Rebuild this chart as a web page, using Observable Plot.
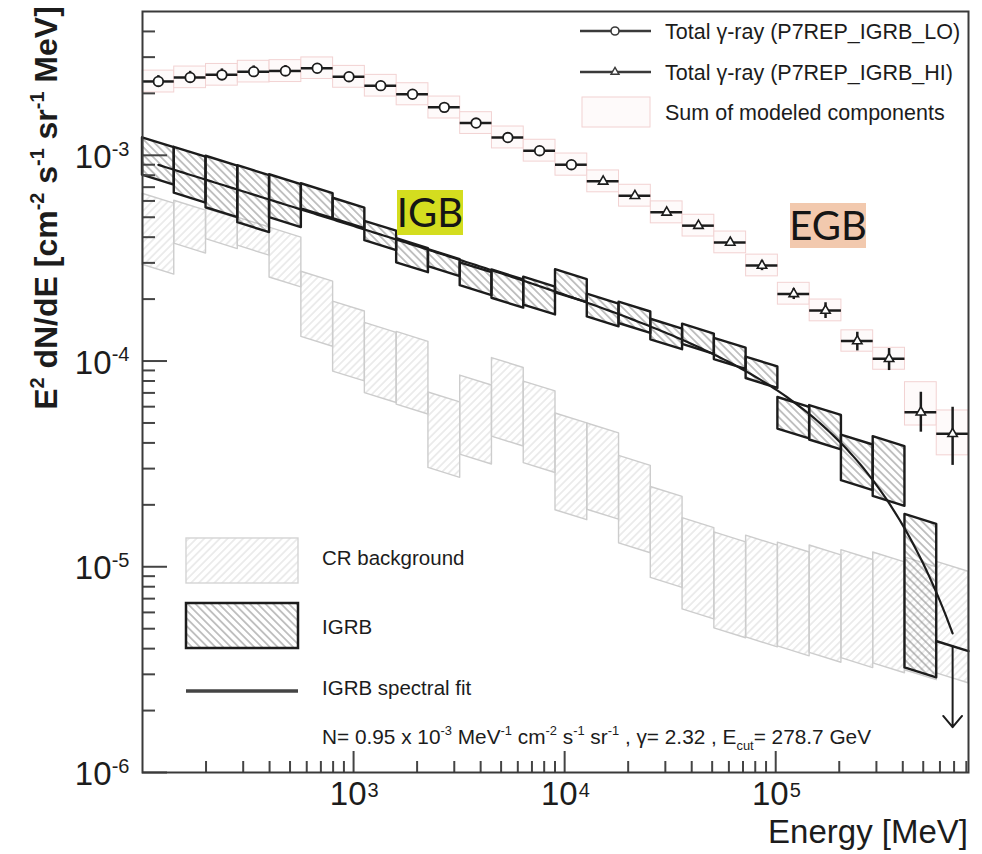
<!DOCTYPE html>
<html>
<head>
<meta charset="utf-8">
<script src="https://cdn.jsdelivr.net/npm/d3@7"></script>
<script src="https://cdn.jsdelivr.net/npm/@observablehq/plot@0.6"></script>
<style>
  body { margin: 0; background: #fff; }
  #chart svg { display: block; }
</style>
</head>
<body>
<div id="chart"></div>
<script>
// Energy binning in MeV: 26 bins from 100 MeV to 819.2 GeV
const binEdges = [100, 141.4, 200, 282.8, 400, 565.7, 800, 1131, 1600, 2263, 3200, 4525, 6400,
  9051, 12800, 18102, 25600, 36204, 51200, 72408, 102400, 144815, 204800, 289631, 409600,
  579262, 819200];

// Total gamma-ray intensity E^2 dN/dE [MeV cm^-2 s^-1 sr^-1], one value per bin
const totalFlux = [2.285e-3, 2.39e-3, 2.46e-3, 2.55e-3, 2.57e-3, 2.65e-3, 2.41e-3, 2.18e-3,
  1.98e-3, 1.71e-3, 1.435e-3, 1.22e-3, 1.053e-3, 9.00e-4, 7.47e-4, 6.36e-4, 5.28e-4, 4.55e-4,
  3.77e-4, 2.91e-4, 2.12e-4, 1.76e-4, 1.25e-4, 1.025e-4, 5.64e-5, 4.43e-5];
const totalErrLow = [2.14e-3, 2.24e-3, 2.30e-3, 2.39e-3, 2.42e-3, 2.51e-3, 2.32e-3, 2.10e-3,
  1.91e-3, 1.65e-3, 1.39e-3, 1.18e-3, 1.02e-3, 8.70e-4, 7.22e-4, 6.15e-4, 5.10e-4, 4.40e-4,
  3.62e-4, 2.75e-4, 1.99e-4, 1.61e-4, 1.12e-4, 8.99e-5, 4.51e-5, 3.11e-5];
const totalErrHigh = [2.44e-3, 2.56e-3, 2.63e-3, 2.72e-3, 2.73e-3, 2.79e-3, 2.50e-3, 2.26e-3,
  2.05e-3, 1.77e-3, 1.48e-3, 1.26e-3, 1.09e-3, 9.31e-4, 7.73e-4, 6.58e-4, 5.46e-4, 4.71e-4,
  3.93e-4, 3.08e-4, 2.25e-4, 1.92e-4, 1.38e-4, 1.15e-4, 7.05e-5, 5.96e-5];
// The first bins come from the P7REP_IGRB_LO selection, the rest from P7REP_IGRB_HI
const loSelectionBins = 14;

// Sum of modeled components (band per bin)
const modelSumLow = [2.02e-3, 2.12e-3, 2.18e-3, 2.26e-3, 2.27e-3, 2.35e-3, 2.13e-3, 1.93e-3,
  1.75e-3, 1.51e-3, 1.27e-3, 1.08e-3, 9.32e-4, 7.96e-4, 6.61e-4, 5.63e-4, 4.67e-4, 4.03e-4,
  3.34e-4, 2.58e-4, 1.88e-4, 1.56e-4, 1.11e-4, 9.07e-5, 4.86e-5, 3.48e-5];
const modelSumHigh = [2.58e-3, 2.70e-3, 2.78e-3, 2.88e-3, 2.90e-3, 2.99e-3, 2.72e-3, 2.46e-3,
  2.24e-3, 1.93e-3, 1.62e-3, 1.38e-3, 1.19e-3, 1.02e-3, 8.44e-4, 7.19e-4, 5.97e-4, 5.14e-4,
  4.26e-4, 3.29e-4, 2.40e-4, 1.99e-4, 1.41e-4, 1.16e-4, 7.89e-5, 5.75e-5];

// IGRB band at bin centre (first 25 bins); last bin is an upper limit
const igrbHigh = [1.151e-3, 1.035e-3, 9.36e-4, 8.42e-4, 7.61e-4, 6.88e-4, 5.85e-4, 4.52e-4,
  3.72e-4, 3.29e-4, 2.84e-4, 2.62e-4, 2.42e-4, 2.63e-4, 2.00e-4, 1.83e-4, 1.51e-4, 1.43e-4,
  1.22e-4, 9.89e-5, 6.29e-5, 5.75e-5, 4.13e-5, 4.06e-5, 1.70e-5];
const igrbLow = [7.57e-4, 6.19e-4, 5.26e-4, 4.45e-4, 4.71e-4, 5.20e-4, 4.65e-4, 3.64e-4,
  2.84e-4, 2.72e-4, 2.20e-4, 1.91e-4, 1.77e-4, 2.03e-4, 1.55e-4, 1.44e-4, 1.20e-4, 1.14e-4,
  9.62e-5, 7.78e-5, 4.42e-5, 3.91e-5, 2.48e-5, 2.08e-5, 3.05e-6];
const igrbUpperLimit = 4.11e-6;
const igrbLimitArrowEnd = 1.66e-6;

// Cosmic-ray background band at bin centre
const crHigh = [6.15e-4, 5.69e-4, 5.20e-4, 4.71e-4, 4.21e-4, 2.57e-4, 1.84e-4, 1.45e-4,
  1.31e-4, 6.65e-5, 8.04e-5, 9.78e-5, 7.52e-5, 5.26e-5, 4.70e-5, 3.27e-5, 2.31e-5, 1.63e-5,
  1.39e-5, 1.34e-5, 1.24e-5, 1.20e-5, 1.14e-5, 1.11e-5, 1.05e-5, 1.00e-5];
const crLow = [2.78e-4, 3.52e-4, 3.70e-4, 3.44e-4, 2.41e-4, 1.24e-4, 8.41e-5, 6.61e-5,
  5.81e-5, 2.86e-5, 3.32e-5, 4.06e-5, 3.02e-5, 1.78e-5, 1.79e-5, 1.23e-5, 8.35e-6, 5.87e-6,
  4.75e-6, 4.29e-6, 3.88e-6, 3.61e-6, 3.40e-6, 3.21e-6, 2.97e-6, 2.87e-6];

// IGRB spectral fit: power law with exponential cutoff
const fitNorm = 0.95e-3;     // E^2 dN/dE at 100 MeV
const fitIndex = 2.32;
const fitCutoffGeV = 278.7;

// Axis ticks
const xMajorTicks = [1e3, 1e4, 1e5];
const xMinorTicks = [200, 300, 400, 500, 600, 700, 800, 900, 2000, 3000, 4000, 5000, 6000,
  7000, 8000, 9000, 2e4, 3e4, 4e4, 5e4, 6e4, 7e4, 8e4, 9e4, 2e5, 3e5, 4e5, 5e5, 6e5, 7e5, 8e5];
const yMajorTicks = [1e-6, 1e-5, 1e-4, 1e-3];
const yMinorTicks = [2e-6, 3e-6, 4e-6, 5e-6, 6e-6, 7e-6, 8e-6, 9e-6, 2e-5, 3e-5, 4e-5, 5e-5,
  6e-5, 7e-5, 8e-5, 9e-5, 2e-4, 3e-4, 4e-4, 5e-4, 6e-4, 7e-4, 8e-4, 9e-4, 2e-3, 3e-3, 4e-3];

// ---------------------------------------------------------------------------
const FONT = "'Liberation Sans', Arial, Helvetica, sans-serif";
const W = 982, H = 854;
const M = {left: 142, right: 14, top: 11, bottom: 82};
const plotW = W - M.left - M.right, plotH = H - M.top - M.bottom;

const bins = binEdges.slice(0, -1).map((lo, i) => {
  const hi = binEdges[i + 1];
  return {i, lo, hi, mid: Math.sqrt(lo * hi)};
});

// Each band cell is a parallelogram whose edges follow E^(2-gamma) across the bin
const tilt = 2 - fitIndex;
const cellPolygons = (high, low) => high.flatMap((h, i) => {
  const b = bins[i];
  return [b.lo, b.hi].map(e => {
    const f = Math.pow(e / b.mid, tilt);
    return {bin: i, e, top: h * f, bottom: low[i] * f};
  });
});
const crCells = cellPolygons(crHigh, crLow);
const igrbCells = cellPolygons(igrbHigh, igrbLow);

const lastBin = bins[bins.length - 1];
const limitSegment = [lastBin.lo, lastBin.hi].map(e => ({e, v: igrbUpperLimit * Math.pow(e / lastBin.mid, tilt)}));

const total = bins.map((b, i) => ({
  ...b, flux: totalFlux[i], errLow: totalErrLow[i], errHigh: totalErrHigh[i],
  modelLow: modelSumLow[i], modelHigh: modelSumHigh[i]
}));

// Fit curve evaluated from first to last bin centre
const fitModel = e => fitNorm * Math.pow(e / 100, 2 - fitIndex) * Math.exp(-e / (fitCutoffGeV * 1000));
const eStart = bins[0].mid, eEnd = lastBin.mid;
const fitCurve = d3.range(241).map(k => {
  const e = eStart * Math.pow(eEnd / eStart, k / 240);
  return {e, v: fitModel(e)};
});

const INK = "#1c1c1c";
const MODEL_FILL = "#fefafa", MODEL_STROKE = "#f2d2d2";

const chart = Plot.plot({
  width: W, height: H,
  marginLeft: M.left, marginRight: M.right, marginTop: M.top, marginBottom: M.bottom,
  x: {type: "log", domain: [binEdges[0], binEdges[binEdges.length - 1]], axis: null},
  y: {type: "log", domain: [1e-6, 5e-3], axis: null},
  style: {background: "#fff", fontFamily: FONT, color: INK, overflow: "visible"},
  marks: [
    // sum of modeled components
    Plot.rect(total, {x1: "lo", x2: "hi", y1: "modelLow", y2: "modelHigh",
      fill: MODEL_FILL, stroke: MODEL_STROKE, strokeWidth: 1}),
    // CR background
    Plot.areaY(crCells, {x: "e", y1: "bottom", y2: "top", z: "bin",
      fill: "url(#hatch-cr)", stroke: "#cdcdcd", strokeWidth: 1.4}),
    // IGRB
    Plot.areaY(igrbCells, {x: "e", y1: "bottom", y2: "top", z: "bin",
      fill: "url(#hatch-igrb)", stroke: INK, strokeWidth: 2.4}),
    Plot.line(limitSegment, {x: "e", y: "v", stroke: INK, strokeWidth: 2.4}),
    Plot.arrow([lastBin], {x1: "mid", x2: "mid", y1: () => igrbUpperLimit, y2: () => igrbLimitArrowEnd,
      stroke: INK, strokeWidth: 2, headLength: 11, headAngle: 80}),
    // spectral fit
    Plot.line(fitCurve, {x: "e", y: "v", stroke: INK, strokeWidth: 2.2}),
    // total gamma-ray points
    Plot.ruleY(total, {y: "flux", x1: "lo", x2: "hi", stroke: INK, strokeWidth: 2.5}),
    Plot.ruleX(total, {x: "mid", y1: "errLow", y2: "errHigh", stroke: INK, strokeWidth: 2.5}),
    Plot.dot(total.slice(0, loSelectionBins), {x: "mid", y: "flux", r: 4.8,
      fill: "#fff", stroke: INK, strokeWidth: 1.8}),
    Plot.dot(total.slice(loSelectionBins), {x: "mid", y: "flux", r: 3.5, symbol: "triangle",
      fill: "#fff", stroke: INK, strokeWidth: 1.6}),
    // inward ticks
    Plot.tickY(yMajorTicks, {y: d => d, insetRight: plotW - 25, stroke: "#444", strokeWidth: 2}),
    Plot.tickY(yMinorTicks, {y: d => d, insetRight: plotW - 13, stroke: "#444", strokeWidth: 2}),
    Plot.tickX(xMajorTicks, {x: d => d, insetTop: plotH - 21, stroke: "#444", strokeWidth: 2}),
    Plot.tickX(xMinorTicks, {x: d => d, insetTop: plotH - 11, stroke: "#444", strokeWidth: 2}),
    Plot.frame({stroke: "#3a3a3a", strokeWidth: 2}),
    // tick labels: mantissa "10" and exponent
    Plot.text(yMajorTicks, {y: d => d, frameAnchor: "left", text: () => "10", dx: -31, dy: 2,
      textAnchor: "end", fontSize: 33, fill: INK}),
    Plot.text(yMajorTicks, {y: d => d, frameAnchor: "left", text: d => String(Math.round(Math.log10(d))),
      dx: -13, dy: -6, textAnchor: "end", fontSize: 20, fill: INK}),
    Plot.text(xMajorTicks, {x: d => d, frameAnchor: "bottom", text: () => "10", dx: 13, dy: 32,
      textAnchor: "end", fontSize: 33, fill: INK}),
    Plot.text(xMajorTicks, {x: d => d, frameAnchor: "bottom", text: d => String(Math.round(Math.log10(d))),
      dx: 14, dy: 24, textAnchor: "start", fontSize: 20, fill: INK})
  ]
});

document.getElementById("chart").appendChild(chart);

// ---- hatch patterns, legends, titles and labels ----
const svg = d3.select(chart);
const defs = svg.insert("defs", ":first-child");
function hatch(id, angle, color, width, gap) {
  const p = defs.append("pattern").attr("id", id).attr("patternUnits", "userSpaceOnUse")
    .attr("width", gap).attr("height", gap).attr("patternTransform", `rotate(${angle})`);
  p.append("line").attr("x1", gap / 2).attr("y1", -1).attr("x2", gap / 2).attr("y2", gap + 1)
    .attr("stroke", color).attr("stroke-width", width);
}
hatch("hatch-igrb", -45, "#7c7c7c", 0.9, 5.5);
hatch("hatch-cr", 45, "#d6d6d6", 0.9, 5.5);

const overlay = svg.append("g").attr("font-family", FONT).attr("fill", INK).attr("text-anchor", "start");

// text with superscript / subscript runs: parts = [[text, shift], ...]
function richText(g, x, y, parts, size, attrs = {}) {
  const t = g.append("text").attr("x", x).attr("y", y).attr("font-size", size);
  for (const [k, v] of Object.entries(attrs)) t.attr(k, v);
  let cur = 0;
  for (const [str, shift] of parts) {
    const s = t.append("tspan").text(str);
    const target = shift === "sup" ? -0.42 * size : shift === "sub" ? 0.3 * size : 0;
    s.attr("dy", target - cur);
    if (shift) s.attr("font-size", size * 0.62);
    cur = target;
  }
  return t;
}

// top-right legend
const lg = overlay.append("g");
[[31, "circle", "Total γ-ray (P7REP_IGRB_LO)"], [72, "triangle", "Total γ-ray (P7REP_IGRB_HI)"]].forEach(([y, shape, label]) => {
  lg.append("line").attr("x1", 580).attr("x2", 651).attr("y1", y).attr("y2", y)
    .attr("stroke", "#3a3a3a").attr("stroke-width", 2.5);
  if (shape === "circle") {
    lg.append("circle").attr("cx", 615).attr("cy", y).attr("r", 4).attr("fill", "#fff")
      .attr("stroke", "#3a3a3a").attr("stroke-width", 1.6);
  } else {
    lg.append("path").attr("d", d3.symbol(d3.symbolTriangle, 28)()).attr("transform", `translate(615,${y})`)
      .attr("fill", "#fff").attr("stroke", "#3a3a3a").attr("stroke-width", 1.4);
  }
  lg.append("text").attr("x", 665).attr("y", y).attr("dy", "0.36em").attr("font-size", 21.5).text(label);
});
lg.append("rect").attr("x", 582).attr("y", 97).attr("width", 68).attr("height", 30)
  .attr("fill", MODEL_FILL).attr("stroke", MODEL_STROKE);
lg.append("text").attr("x", 665).attr("y", 112).attr("dy", "0.36em").attr("font-size", 21.5).text("Sum of modeled components");

// bottom-left legend
const bl = overlay.append("g");
bl.append("rect").attr("x", 186).attr("y", 538).attr("width", 112).attr("height", 45)
  .attr("fill", "url(#hatch-cr)").attr("stroke", "#d4d4d4").attr("stroke-width", 1.4);
bl.append("text").attr("x", 322).attr("y", 558).attr("dy", "0.36em").attr("font-size", 20.5).text("CR background");
bl.append("rect").attr("x", 186).attr("y", 603).attr("width", 112).attr("height", 45)
  .attr("fill", "url(#hatch-igrb)").attr("stroke", INK).attr("stroke-width", 2.5);
bl.append("text").attr("x", 322).attr("y", 627).attr("dy", "0.36em").attr("font-size", 20.5).text("IGRB");
bl.append("line").attr("x1", 186).attr("x2", 298).attr("y1", 691).attr("y2", 691)
  .attr("stroke", "#444").attr("stroke-width", 3.5);
bl.append("text").attr("x", 322).attr("y", 688).attr("dy", "0.36em").attr("font-size", 20.5).text("IGRB spectral fit");

richText(bl, 322, 744, [
  [`N= ${(fitNorm * 1e3).toFixed(2)} x 10`], ["-3", "sup"], [" MeV"], ["-1", "sup"], [" cm"], ["-2", "sup"],
  [" s"], ["-1", "sup"], [" sr"], ["-1", "sup"], [` , γ= ${fitIndex.toFixed(2)} , E`], ["cut", "sub"],
  [`= ${fitCutoffGeV.toFixed(1)} GeV`]
], 20.8);

// axis titles
overlay.append("text").attr("x", 968).attr("y", 843).attr("text-anchor", "end")
  .attr("font-size", 33).text("Energy [MeV]");
richText(overlay, 0, 0, [
  ["E"], ["2", "sup"], [" dN/dE [cm"], ["-2", "sup"], [" s"], ["-1", "sup"], [" sr"], ["-1", "sup"], [" MeV]"]
], 32, {"font-weight": "bold", "text-anchor": "middle", transform: "translate(57,208) rotate(-90)"});

// region labels
function tag(x, y, w, h, bg, label) {
  const g = svg.append("g");
  g.append("rect").attr("x", x).attr("y", y).attr("width", w).attr("height", h).attr("fill", bg);
  g.append("text").attr("x", x + w / 2).attr("y", y + h / 2).attr("dy", "0.36em")
    .attr("text-anchor", "middle").attr("font-family", "Lato, 'Open Sans', sans-serif")
    .attr("font-size", 40).attr("fill", "#151515").text(label);
}
tag(397, 190, 66, 45, "#d4dd1f", "IGB");
tag(790, 203, 76, 45, "#f2c9ae", "EGB");
</script>
</body>
</html>
